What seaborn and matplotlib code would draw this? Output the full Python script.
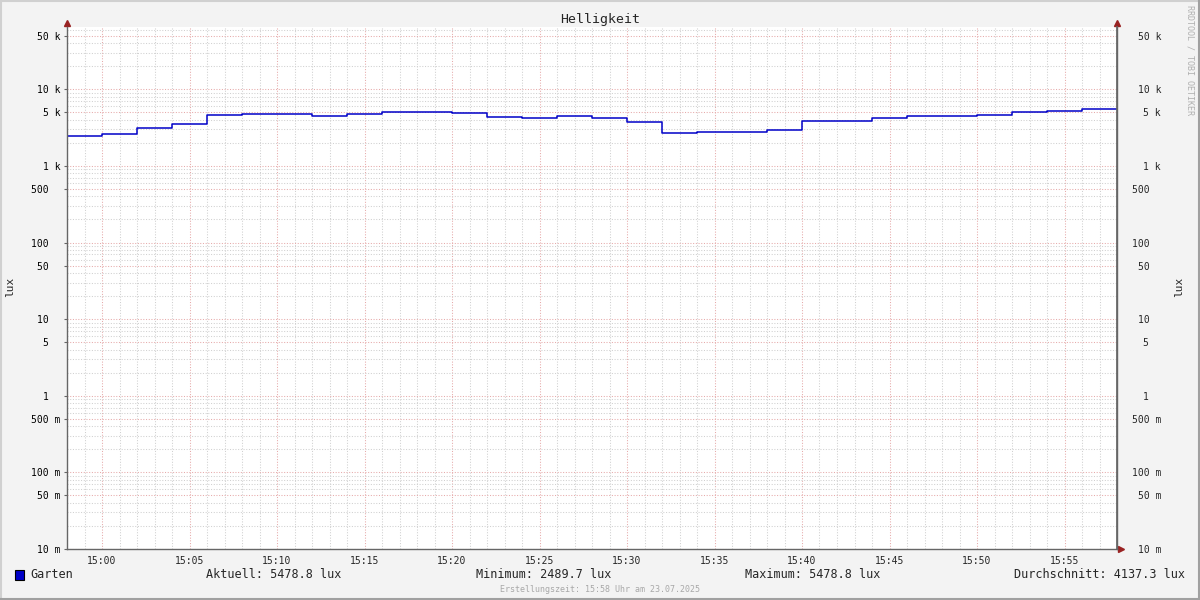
import pandas as pd
import matplotlib.pyplot as plt
import matplotlib.dates as mdates
from matplotlib.ticker import FixedLocator, LogLocator, NullFormatter
from matplotlib.patches import Rectangle
from matplotlib.lines import Line2D
import seaborn as sns

# Messwerte (2-Minuten-Stufen, letzter Punkt schliesst die letzte Stufe)
times = ["14:58", "15:00", "15:02", "15:04", "15:06", "15:08", "15:10", "15:12",
         "15:14", "15:16", "15:18", "15:20", "15:22", "15:24", "15:26", "15:28",
         "15:30", "15:32", "15:34", "15:36", "15:38", "15:40", "15:42", "15:44",
         "15:46", "15:48", "15:50", "15:52", "15:54", "15:56", "15:58"]
lux = [2489.7, 2610, 3100, 3500, 4620, 4720, 4720, 4500, 4720, 5000,
       5000, 4900, 4320, 4200, 4500, 4200, 3720, 2680, 2760, 2760,
       2920, 3870, 3870, 4270, 4520, 4450, 4560, 5000, 5160, 5478.8, 5478.8]

ytick_vals = [50000, 10000, 5000, 1000, 500, 100, 50, 10, 5, 1, 0.5, 0.1, 0.05, 0.01]
ytick_labels = ["50 k", "10 k", "5 k", "1 k", "500  ", "100  ", "50  ", "10  ",
                "5  ", "1  ", "500 m", "100 m", "50 m", "10 m"]

legend_name = "Garten"
stats = [("Aktuell: 5478.8 lux", 274), ("Minimum: 2489.7 lux", 544),
         ("Maximum: 5478.8 lux", 813), ("Durchschnitt: 4137.3 lux", 1100)]

df = pd.DataFrame({"zeit": pd.to_datetime(["2025-07-23 " + t for t in times]),
                   "lux": lux})

sns.set_theme(style="white")
plt.rcParams["font.family"] = ["DejaVu Sans Mono", "DejaVu Sans"]

W, H = 1200, 600
fig = plt.figure(figsize=(12, 6), dpi=100, facecolor="#f3f3f3")
ax = fig.add_axes([67 / W, 1 - 549 / H, 1050 / W, 522 / H])
ax.set_facecolor("white")

sns.lineplot(data=df, x="zeit", y="lux", ax=ax, drawstyle="steps-post",
             color="#0000c8", linewidth=1.1)

ax.set_yscale("log")
ax.set_ylim(0.01, 65000)
ax.set_xlim(df["zeit"].iloc[0], df["zeit"].iloc[-1])

# Gitter
grid_minor = dict(color="#d0d0d0", linewidth=0.75, linestyle=(0, (1, 1.6)))
grid_major = dict(color="#e6aaaa", linewidth=0.75, linestyle=(0, (1, 1.6)))
ax.yaxis.set_minor_locator(LogLocator(base=10, subs=range(2, 10), numticks=20))
ax.yaxis.set_minor_formatter(NullFormatter())
ax.yaxis.set_major_locator(FixedLocator(ytick_vals))
ax.set_yticklabels(ytick_labels)
ax.xaxis.set_major_locator(mdates.MinuteLocator(byminute=range(0, 60, 5)))
ax.xaxis.set_minor_locator(mdates.MinuteLocator())
ax.xaxis.set_major_formatter(mdates.DateFormatter("%H:%M"))
ax.grid(which="minor", axis="both", **grid_minor)
ax.grid(which="major", axis="both", **grid_major)
ax.set_axisbelow(True)

ax.tick_params(axis="y", which="major", length=2, width=0.8, color="#666666",
               pad=2.5, labelsize=7, labelcolor="#000000", left=True)
ax.tick_params(axis="y", which="minor", length=0)
ax.tick_params(axis="x", which="both", length=0, pad=5, labelsize=7)
ax.set_xlabel("")
ax.set_ylabel("")

for side in ["left", "right", "bottom"]:
    ax.spines[side].set_color("#666666")
    ax.spines[side].set_linewidth(1)
ax.spines["top"].set_visible(False)

# rechte Achse
ax2 = ax.twinx()
ax2.set_yscale("log")
ax2.set_ylim(ax.get_ylim())
ax2.yaxis.set_major_locator(FixedLocator(ytick_vals))
ax2.yaxis.set_minor_locator(FixedLocator([]))
ax2.set_yticklabels(ytick_labels)
ax2.tick_params(axis="y", which="major", length=0, pad=31.7, labelsize=7)
plt.setp(ax2.get_yticklabels(), ha="right")
for side in ["left", "top", "bottom"]:
    ax2.spines[side].set_visible(False)
ax2.spines["right"].set_color("#666666")
ax2.set_ylabel("")

# Achsentitel
fig.text(10 / W, 1 - 287 / H, "lux", rotation=90, ha="center", va="center", fontsize=8)
fig.text(1179 / W, 1 - 287 / H, "lux", rotation=90, ha="center", va="center", fontsize=8)

# Pfeile an den Achsen
arrow_col = "#992222"
ax.plot([0], [1.008], marker="^", markersize=4, color=arrow_col,
        transform=ax.transAxes, clip_on=False)
ax.plot([1], [1.008], marker="^", markersize=4, color=arrow_col,
        transform=ax.transAxes, clip_on=False)
ax.plot([1.0035], [0], marker=">", markersize=4, color=arrow_col,
        transform=ax.transAxes, clip_on=False)

# Titel und Texte
fig.text(600 / W, 1 - 19 / H, "Helligkeit", ha="center", va="center", fontsize=9.5)
fig.text(1190 / W, 1 - 5 / H, "RRDTOOL / TOBI OETIKER", rotation=270,
         ha="center", va="top", fontsize=6, color="#b0b0b0")
fig.add_artist(Rectangle((15 / W, 1 - 580 / H), 9 / W, 10 / H,
                         transform=fig.transFigure, facecolor="#0000c8",
                         edgecolor="black", linewidth=0.8))
fig.text(30 / W, 1 - 575 / H, legend_name, ha="left", va="center", fontsize=8.5)
for txt, xc in stats:
    fig.text(xc / W, 1 - 575 / H, txt, ha="center", va="center", fontsize=8.5)
fig.text(600 / W, 1 - 589 / H, "Erstellungszeit: 15:58 Uhr am 23.07.2025",
         ha="center", va="center", fontsize=6, color="#a8a8a8")

# Rahmen
fig.add_artist(Line2D([0, 1], [1 - 1 / H, 1 - 1 / H], transform=fig.transFigure,
                      color="#d0d0d0", linewidth=1.5))
fig.add_artist(Line2D([1 / W, 1 / W], [0, 1], transform=fig.transFigure,
                      color="#d0d0d0", linewidth=1.5))
fig.add_artist(Line2D([0, 1], [1 / H, 1 / H], transform=fig.transFigure,
                      color="#a0a0a0", linewidth=1.5))
fig.add_artist(Line2D([1 - 1 / W, 1 - 1 / W], [0, 1], transform=fig.transFigure,
                      color="#a0a0a0", linewidth=1.5))

fig.savefig("out.png", dpi=100, facecolor=fig.get_facecolor())
